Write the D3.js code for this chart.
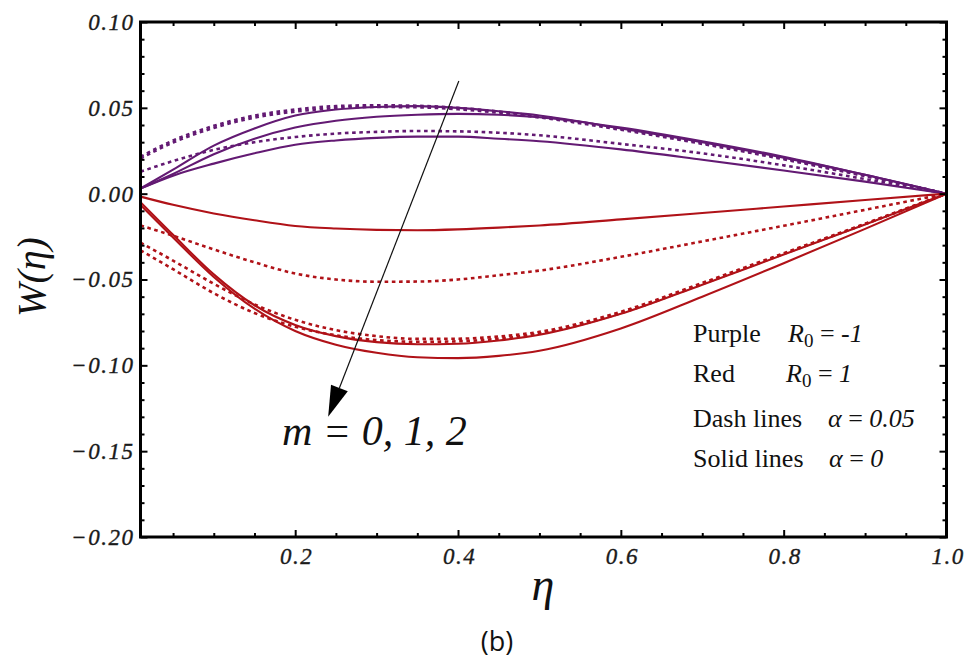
<!DOCTYPE html>
<html>
<head>
<meta charset="utf-8">
<script src="https://cdn.jsdelivr.net/npm/d3@7"></script>
<style>
  html, body { margin: 0; padding: 0; background: #fff; }
  svg { display: block; }
</style>
</head>
<body>
<svg id="chart" width="967" height="664"></svg>
<script>
// Grid of eta values at which W(eta) is tabulated
const eta = [0.01, 0.05, 0.10, 0.15, 0.20, 0.25, 0.30, 0.35, 0.40, 0.45, 0.50, 0.60, 0.70, 0.80, 0.90, 1.00];

// R0 = -1 (purple), alpha = 0 (solid), m = 0, 1, 2
const purpleSolidM0 = [0.003, 0.014, 0.028, 0.038, 0.0455, 0.049, 0.0505, 0.051, 0.050, 0.048, 0.0455, 0.038, 0.030, 0.021, 0.011, 0];
const purpleSolidM1 = [0.003, 0.0115, 0.023, 0.032, 0.0385, 0.0425, 0.0448, 0.046, 0.0465, 0.046, 0.0445, 0.0385, 0.0305, 0.0215, 0.011, 0];
const purpleSolidM2 = [0.003, 0.0105, 0.0175, 0.0235, 0.0285, 0.031, 0.0325, 0.0332, 0.0332, 0.032, 0.0305, 0.0258, 0.0198, 0.0135, 0.007, 0];
// R0 = -1 (purple), alpha = 0.05 (dashed), m = 0, 1, 2
const purpleDashM0 = [0.0215, 0.031, 0.0395, 0.0455, 0.049, 0.051, 0.0515, 0.0512, 0.050, 0.0478, 0.045, 0.0378, 0.0295, 0.0205, 0.0105, 0];
const purpleDashM1 = [0.0205, 0.0298, 0.0383, 0.0443, 0.0478, 0.0498, 0.0505, 0.0503, 0.0492, 0.0471, 0.0444, 0.0372, 0.029, 0.020, 0.0102, 0];
const purpleDashM2 = [0.0128, 0.019, 0.0255, 0.030, 0.033, 0.035, 0.036, 0.0365, 0.0363, 0.0355, 0.034, 0.029, 0.0235, 0.0165, 0.0085, 0];

// R0 = 1 (red), alpha = 0 (solid), m = 0, 1, 2
const redSolidM0 = [-0.0017, -0.0065, -0.0115, -0.0155, -0.0188, -0.0203, -0.0211, -0.0213, -0.0208, -0.0198, -0.0185, -0.015, -0.0113, -0.0075, -0.0037, 0];
const redSolidM1 = [-0.005, -0.024, -0.047, -0.065, -0.0765, -0.083, -0.0865, -0.0877, -0.0874, -0.0855, -0.0822, -0.070, -0.053, -0.0355, -0.018, 0];
const redSolidM2 = [-0.0066, -0.0255, -0.0485, -0.067, -0.080, -0.088, -0.0927, -0.0953, -0.0958, -0.0945, -0.0915, -0.0785, -0.060, -0.0405, -0.0205, 0];
// R0 = 1 (red), alpha = 0.05 (dashed), m = 0, 1, 2
const redDashM0 = [-0.0185, -0.0245, -0.0325, -0.040, -0.0465, -0.050, -0.0513, -0.0512, -0.050, -0.0475, -0.0448, -0.0368, -0.0278, -0.0187, -0.0094, 0];
const redDashM1 = [-0.0285, -0.039, -0.0525, -0.0645, -0.0735, -0.0795, -0.083, -0.0846, -0.0845, -0.0832, -0.0805, -0.0688, -0.052, -0.0347, -0.0175, 0];
const redDashM2 = [-0.033, -0.044, -0.058, -0.0695, -0.0775, -0.0825, -0.0853, -0.0863, -0.086, -0.0845, -0.0815, -0.0696, -0.0526, -0.0351, -0.0177, 0];

// Axis ticks
const xMajorTicks = [0.2, 0.4, 0.6, 0.8, 1.0];
const xMinorTicks = [0.05, 0.10, 0.15, 0.25, 0.30, 0.35, 0.45, 0.50, 0.55, 0.65, 0.70, 0.75, 0.85, 0.90, 0.95];
const yMajorTicks = [-0.20, -0.15, -0.10, -0.05, 0.00, 0.05, 0.10];
const yMinorTicks = [-0.19, -0.18, -0.17, -0.16, -0.14, -0.13, -0.12, -0.11, -0.09, -0.08, -0.07, -0.06,
                     -0.04, -0.03, -0.02, -0.01, 0.01, 0.02, 0.03, 0.04, 0.06, 0.07, 0.08, 0.09];

// Arrow indicating increasing m (data coordinates: start, tip)
const arrowFrom = [0.401, 0.0656];
const arrowTo = [0.2405, -0.130];

const PURPLE = "#631a73";
const RED = "#b01218";

const series = [
  { values: purpleSolidM0, color: PURPLE, dashed: false },
  { values: purpleSolidM1, color: PURPLE, dashed: false },
  { values: purpleSolidM2, color: PURPLE, dashed: false },
  { values: purpleDashM0, color: PURPLE, dashed: true },
  { values: purpleDashM1, color: PURPLE, dashed: true },
  { values: purpleDashM2, color: PURPLE, dashed: true },
  { values: redSolidM0, color: RED, dashed: false },
  { values: redSolidM1, color: RED, dashed: false },
  { values: redSolidM2, color: RED, dashed: false },
  { values: redDashM0, color: RED, dashed: true },
  { values: redDashM1, color: RED, dashed: true },
  { values: redDashM2, color: RED, dashed: true }
];

const svg = d3.select("#chart");
const plotLeft = 140.5, plotRight = 946.5, plotTop = 22, plotBottom = 537;
const serif = "Liberation Serif, Times New Roman, serif";

const x = d3.scaleLinear().domain([0.01, 1.0]).range([plotLeft, plotRight]);
const y = d3.scaleLinear().domain([-0.20, 0.10]).range([plotBottom, plotTop]);

const fmtY = v => (v < 0 ? "\u2212" : "") + Math.abs(v).toFixed(2);
const fmtX = v => v.toFixed(1);

// Curves
const line = d3.line()
  .x(d => x(d[0]))
  .y(d => y(d[1]))
  .curve(d3.curveMonotoneX);

svg.append("clipPath").attr("id", "clip")
  .append("rect").attr("x", plotLeft).attr("y", plotTop)
  .attr("width", plotRight - plotLeft).attr("height", plotBottom - plotTop);

const curves = svg.append("g").attr("clip-path", "url(#clip)");
series.forEach(s => {
  curves.append("path")
    .attr("d", line(eta.map((e, i) => [e, s.values[i]])))
    .attr("fill", "none")
    .attr("stroke", s.color)
    .attr("stroke-width", s.dashed ? 2.6 : 2.1)
    .attr("stroke-dasharray", s.dashed ? "3.6,3.6" : null);
});

// Axes: ticks point inward on all four sides
function styleAxis(g) {
  g.select(".domain").remove();
  g.selectAll(".tick line").attr("stroke", "#000").attr("stroke-width", 2);
  g.selectAll(".tick text")
    .attr("font-family", serif)
    .attr("font-style", "italic")
    .attr("font-size", 23)
    .attr("letter-spacing", "1.5px")
    .attr("fill", "#1a1a1a")
    .attr("stroke", "#1a1a1a")
    .attr("stroke-width", 0.35);
}

svg.append("g").attr("transform", `translate(0,${plotBottom})`)
  .call(d3.axisBottom(x).tickValues(xMajorTicks).tickSize(-7).tickPadding(11).tickFormat(fmtX))
  .call(styleAxis)
  .call(g => g.selectAll(".tick text").attr("dx", "1px"));
svg.append("g").attr("transform", `translate(0,${plotBottom})`)
  .call(d3.axisBottom(x).tickValues(xMinorTicks).tickSize(-4).tickFormat(""))
  .call(styleAxis);
svg.append("g").attr("transform", `translate(0,${plotTop})`)
  .call(d3.axisTop(x).tickValues(xMajorTicks).tickSize(-7).tickFormat(""))
  .call(styleAxis);
svg.append("g").attr("transform", `translate(0,${plotTop})`)
  .call(d3.axisTop(x).tickValues(xMinorTicks).tickSize(-4).tickFormat(""))
  .call(styleAxis);

svg.append("g").attr("transform", `translate(${plotLeft},0)`)
  .call(d3.axisLeft(y).tickValues(yMajorTicks).tickSize(-7).tickPadding(6).tickFormat(fmtY))
  .call(styleAxis);
svg.append("g").attr("transform", `translate(${plotLeft},0)`)
  .call(d3.axisLeft(y).tickValues(yMinorTicks).tickSize(-4).tickFormat(""))
  .call(styleAxis);
svg.append("g").attr("transform", `translate(${plotRight},0)`)
  .call(d3.axisRight(y).tickValues(yMajorTicks).tickSize(-7).tickFormat(""))
  .call(styleAxis);
svg.append("g").attr("transform", `translate(${plotRight},0)`)
  .call(d3.axisRight(y).tickValues(yMinorTicks).tickSize(-4).tickFormat(""))
  .call(styleAxis);

// Frame
svg.append("rect")
  .attr("x", plotLeft).attr("y", plotTop)
  .attr("width", plotRight - plotLeft).attr("height", plotBottom - plotTop)
  .attr("fill", "none").attr("stroke", "#000").attr("stroke-width", 3);

// Arrow
const ax0 = x(arrowFrom[0]), ay0 = y(arrowFrom[1]);
const ax1 = x(arrowTo[0]), ay1 = y(arrowTo[1]);
const ang = Math.atan2(ay1 - ay0, ax1 - ax0);
const headLen = 31, headHalf = 9;
const bx = ax1 - headLen * Math.cos(ang), by = ay1 - headLen * Math.sin(ang);
svg.append("line")
  .attr("x1", ax0).attr("y1", ay0).attr("x2", bx).attr("y2", by)
  .attr("stroke", "#111").attr("stroke-width", 1.2);
svg.append("path")
  .attr("d", `M${ax1},${ay1} L${bx + headHalf * Math.sin(ang)},${by - headHalf * Math.cos(ang)} L${bx - headHalf * Math.sin(ang)},${by + headHalf * Math.cos(ang)} Z`)
  .attr("fill", "#000");

// Annotation m = 0, 1, 2
svg.append("text")
  .attr("x", 282).attr("y", 445)
  .attr("font-family", serif)
  .attr("font-style", "italic").attr("font-size", 42).attr("fill", "#111")
  .text("m = 0, 1, 2");

// Legend text
const legend = svg.append("g").attr("font-family", serif).attr("font-size", 26).attr("fill", "#111");

function rLine(yPos, label, xVal, value) {
  legend.append("text").attr("x", 693).attr("y", yPos).text(label);
  const t = legend.append("text").attr("x", xVal).attr("y", yPos);
  t.append("tspan").attr("font-style", "italic").text("R");
  t.append("tspan").attr("font-size", 19).attr("dy", 5).text("0");
  t.append("tspan").attr("dy", -5).text(" = ");
  t.append("tspan").attr("font-style", "italic").text(value);
}
function aLine(yPos, label, xVal, value) {
  legend.append("text").attr("x", 693).attr("y", yPos).text(label);
  const t = legend.append("text").attr("x", xVal).attr("y", yPos);
  t.append("tspan").attr("font-style", "italic").text("\u03b1");
  t.append("tspan").text(" = ");
  t.append("tspan").attr("font-style", "italic").text(value);
}
rLine(342, "Purple", 788, "-1");
rLine(382, "Red", 786, "1");
aLine(427, "Dash lines", 828, "0.05");
aLine(467, "Solid lines", 829, "0");

// Axis titles
svg.append("text")
  .attr("transform", "translate(45,277) rotate(-90)")
  .attr("text-anchor", "middle")
  .attr("font-family", serif).attr("font-style", "italic").attr("font-size", 40).attr("fill", "#111")
  .text("W(\u03b7)");

svg.append("text")
  .attr("x", 543).attr("y", 600)
  .attr("text-anchor", "middle")
  .attr("font-family", serif).attr("font-style", "italic").attr("font-size", 46).attr("fill", "#111")
  .text("\u03b7");

// Panel tag
svg.append("text")
  .attr("x", 497).attr("y", 651)
  .attr("text-anchor", "middle")
  .attr("font-family", "Open Sans, Liberation Sans, sans-serif").attr("font-size", 27).attr("fill", "#111")
  .text("(b)");
</script>
</body>
</html>
